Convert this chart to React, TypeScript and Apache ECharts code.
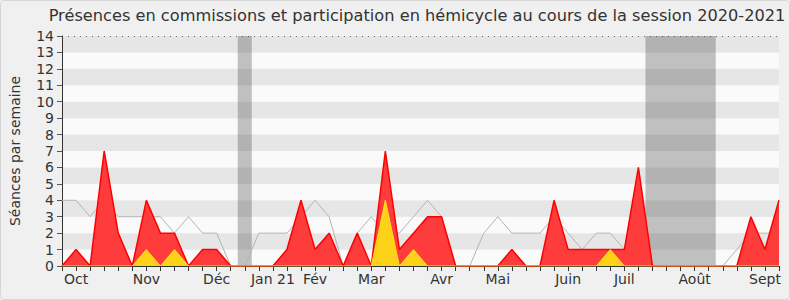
import React, { useEffect, useRef } from "react";
import * as echarts from "echarts";

const weekLabels: string[] = [
  "", "Oct", "", "", "", "", "Nov", "", "", "", "", "Déc", "", "",
  "", "Jan 21", "", "", "Fév", "", "", "", "Mar", "", "", "", "",
  "Avr", "", "", "", "Mai", "", "", "", "", "Juin", "", "", "",
  "Juil", "", "", "", "", "Août", "", "", "", "", "Sept", "",
];

const commissionValues: number[] = [
  0, 1, 0, 7, 2, 0, 4, 2, 2, 0, 1, 1, 0, 0,
  0, 0, 1, 4, 1, 2, 0, 2, 0, 7, 1, 2, 3, 3,
  0, 0, 0, 0, 1, 0, 0, 4, 1, 1, 1, 1, 1, 6,
  0, 0, 0, 0, 0, 0, 0, 3, 1, 4,
];

const hemicycleValues: number[] = [
  0, 0, 0, 0, 0, 0, 1, 0, 1, 0, 0, 0, 0, 0,
  0, 0, 0, 0, 0, 0, 0, 0, 0, 4, 0, 1, 0, 0,
  0, 0, 0, 0, 0, 0, 0, 0, 0, 0, 0, 1, 0, 0,
  0, 0, 0, 0, 0, 0, 0, 0, 0, 0,
];

const medianValues: number[] = [
  4, 4, 3, 4, 3, 3, 3, 3, 2, 3, 2, 2, 0, 0,
  2, 2, 2, 3, 4, 3, 0, 2, 3, 2, 2, 3, 4, 3,
  0, 0, 2, 3, 2, 2, 2, 3, 2, 1, 2, 2, 1, 1,
  0, 0, 0, 0, 0, 0, 1, 2, 2, 2,
];

// recess periods, as [start, end] in week-index units
const recessStart: number[] = [12.5, 41.5];
const recessEnd: number[] = [13.5, 46.5];

const yTicks: number[] = [0, 14];

const FONT = "DejaVu Sans";

export default function App() {
  const ref = useRef<HTMLDivElement>(null);

  useEffect(() => {
    if (!ref.current) return;
    const chart = echarts.init(ref.current, undefined, { renderer: "svg" });
    const idx = weekLabels.map((_, i) => i);

    chart.setOption({
      animation: false,
      backgroundColor: "#f0f0f0",
      textStyle: { fontFamily: FONT },
      title: {
        text: "Présences en commissions et participation en hémicycle au cours de la session 2020-2021",
        left: 412,
        top: 2,
        textAlign: "center",
        textStyle: { fontFamily: FONT, fontSize: 16.2, fontWeight: "normal", color: "#333" },
      },
      graphic: [
        {
          type: "rect",
          shape: { x: 0.5, y: 0.5, width: 789, height: 299, r: 4 },
          style: { fill: "none", stroke: "#d6d6d6", lineWidth: 1 },
          silent: true,
        },
      ],
      grid: { left: 62, right: 11, top: 36, bottom: 34, outerBoundsMode: "none", containLabel: false },
      xAxis: {
        type: "value",
        min: 0,
        max: weekLabels.length - 1,
        interval: 1,
        axisLine: { show: true, lineStyle: { color: "#333", width: 1 } },
        axisTick: { show: true, length: 5, lineStyle: { color: "#333" } },
        axisLabel: {
          fontFamily: FONT,
          fontSize: 14,
          color: "#333",
          margin: 6,
          showMinLabel: true,
          showMaxLabel: true,
          hideOverlap: false,
          formatter: (v: number) => weekLabels[Math.round(v)] || "",
        },
        splitLine: { show: false },
      },
      yAxis: [
        {
          type: "value",
          min: 0,
          max: 14,
          interval: 1,
          name: "Séances par semaine",
          nameLocation: "middle",
          nameGap: 40,
          nameTextStyle: { fontFamily: FONT, fontSize: 14, color: "#333" },
          axisLine: { show: true, lineStyle: { color: "#333" } },
          axisTick: { show: true, length: 5, lineStyle: { color: "#555" } },
          axisLabel: { fontFamily: FONT, fontSize: 14, color: "#333", margin: 8 },
          splitLine: { show: false },
          splitArea: { show: true, areaStyle: { color: ["#fafafa", "#e6e6e6"] } },
        },
        {
          type: "value",
          min: yTicks[0],
          max: yTicks[1],
          interval: 14,
          position: "left",
          axisLine: { show: false },
          axisTick: { show: false },
          axisLabel: { show: false },
          splitLine: { show: true, lineStyle: { color: "#666", type: [1, 5], width: 1 } },
        },
      ],
      series: [
        {
          type: "line",
          name: "recess",
          z: 1,
          data: [],
          markArea: {
            silent: true,
            itemStyle: { color: "rgba(60,60,60,0.3)" },
            data: recessStart.map((s, i) => [{ xAxis: s }, { xAxis: recessEnd[i] }]),
          },
        },
        {
          type: "line",
          name: "Médiane",
          z: 2,
          symbol: "none",
          data: idx.map((i) => [i, medianValues[i]]),
          lineStyle: { color: "#b4b4b4", width: 1 },
        },
        {
          type: "line",
          name: "Commissions",
          z: 3,
          symbol: "none",
          data: idx.map((i) => [i, commissionValues[i]]),
          lineStyle: { color: "#ff0000", width: 1.5 },
          areaStyle: { color: "#ff3c3c", opacity: 1 },
        },
        {
          type: "line",
          name: "Hémicycle",
          z: 4,
          symbol: "none",
          data: idx.map((i) => [i, hemicycleValues[i]]),
          lineStyle: { color: "#ffe01a", width: 1 },
          areaStyle: { color: "#ffd21a", opacity: 1 },
        },
      ],
    });
    return () => chart.dispose();
  }, []);

  return (
    <div
      ref={ref}
      style={{ position: "fixed", left: 0, top: 0, width: 790, height: 300 }}
    />
  );
}
